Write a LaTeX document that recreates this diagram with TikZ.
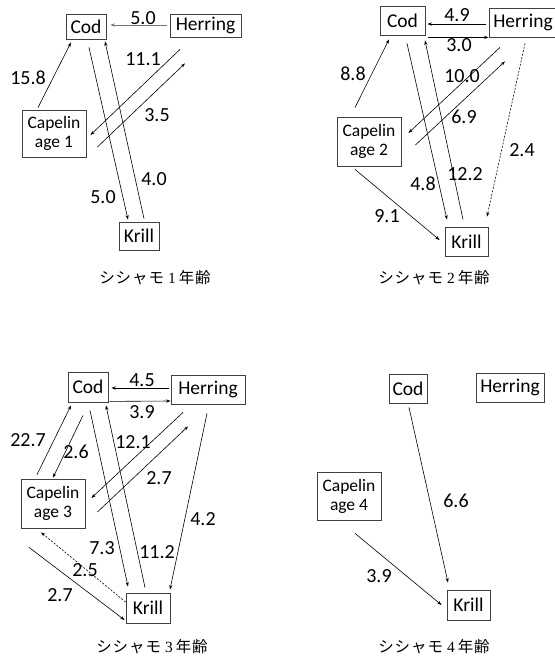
\documentclass[tikz,border=0pt]{standalone}
\usepackage{fontspec}
\setmainfont{Carlito}
\newfontfamily\cjk[LetterSpace=6]{Noto Sans CJK JP}
\newfontfamily\capdigit{Liberation Serif}
\usetikzlibrary{arrows.meta}
\newcommand\agecap[1]{{\cjk シシャモ}\hspace{4pt}{\capdigit #1}\hspace{3pt}{\cjk 年齢}}
\begin{document}
\begin{tikzpicture}[x=1pt,y=-1pt,
  box/.style={draw=black!75, line width=0.8pt, fill=white, inner sep=0pt, align=center, font=\fontsize{19.5}{19}\selectfont},
  capbox/.style={box, font=\fontsize{17.5}{19}\selectfont},
  arr/.style={-{Stealth[length=4.5pt,width=3.2pt]}, line width=0.6pt},
  lbl/.style={font=\fontsize{20}{20}\selectfont, inner sep=0pt},
  captxt/.style={font=\fontsize{15.5}{15.5}\selectfont, inner sep=0pt}]
\useasboundingbox[fill=white] (0,0) rectangle (554,658);

% ---------- Panel 1 ----------
\node[box, minimum width=40, minimum height=25] (p1cod) at (86,26.5) {Cod};
\node[box, minimum width=71, minimum height=23] (p1her) at (205.5,25.5) {Herring};
\node[capbox, minimum width=64, minimum height=47] (p1cap) at (54,133.5) {Capelin\\age 1};
\node[box, minimum width=40, minimum height=28] (p1kri) at (139,236) {Krill};
\node[captxt] (p1t) at (155,278) {\agecap{1}};

\draw[arr, draw=black!55] ([shift={(-3,-0.5)}]p1her.west) -- ([shift={(4,-1.5)}]p1cod.east);
\draw[arr] ([shift={(-16,-2)}]p1cap.north) -- ([shift={(-15,3)}]p1cod.south);
\draw[arr] ([shift={(-25.5,12)}]p1her.south) -- ([shift={(4,1.5)}]p1cap.east);
\draw[arr] ([shift={(11,13.5)}]p1cap.east) -- ([shift={(-20.5,26)}]p1her.south);
\draw[arr] ([shift={(3,8)}]p1cod.south) -- ([shift={(-11,-2)}]p1kri.north);
\draw[arr] ([shift={(5,-3)}]p1kri.north) -- ([shift={(19,2)}]p1cod.south);

\node[lbl] (l1a) at (143,18) {5.0};
\node[lbl] (l1b) at (28,78) {15.8};
\node[lbl] (l1c) at (143,59) {11.1};
\node[lbl] (l1d) at (157,115) {3.5};
\node[lbl] (l1e) at (103,197) {5.0};
\node[lbl] (l1f) at (154,179) {4.0};

% ---------- Panel 2 ----------
\node[box, minimum width=45, minimum height=29] (p2cod) at (402.5,20.5) {Cod};
\node[box, minimum width=68, minimum height=29] (p2her) at (523,22.5) {Herring};
\node[capbox, minimum width=64, minimum height=49] (p2cap) at (369,141.5) {Capelin\\age 2};
\node[box, minimum width=43, minimum height=29] (p2kri) at (466.5,241.5) {Krill};
\node[captxt] (p2t) at (434,278) {\agecap{2}};

\draw[arr] ([shift={(-3,1.5)}]p2her.west) -- ([shift={(2,3.5)}]p2cod.east);
\draw[arr] ([shift={(3,2)}]p2cod.south east) -- ([shift={(0,0)}]p2her.south west);
\draw[arr] ([shift={(-14,-9)}]p2cap.north) -- ([shift={(-13.5,4)}]p2cod.south);
\draw[arr] ([shift={(-23,10)}]p2her.south) -- ([shift={(7,-8.5)}]p2cap.east);
\draw[arr] ([shift={(14,3.5)}]p2cap.east) -- ([shift={(-18,24)}]p2her.south);
\draw[arr, dashed, dash pattern=on 2pt off 1.5pt] ([shift={(2,6)}]p2her.south) -- ([shift={(20.5,-10)}]p2kri.north);
\draw[arr] ([shift={(4.5,8)}]p2cod.south) -- ([shift={(-19.5,-7)}]p2kri.north);
\draw[arr] ([shift={(-3.5,-7)}]p2kri.north) -- ([shift={(22.5,5)}]p2cod.south);
\draw[arr] ([shift={(-14,3)}]p2cap.south) -- ([shift={(-5,-1.5)}]p2kri.west);

\node[lbl] (l2a) at (457,15) {4.9};
\node[lbl] (l2b) at (459,45) {3.0};
\node[lbl] (l2c) at (353,74) {8.8};
\node[lbl] (l2d) at (462,76) {10.0};
\node[lbl] (l2e) at (464,117) {6.9};
\node[lbl] (l2f) at (522,150) {2.4};
\node[lbl] (l2g) at (423,184) {4.8};
\node[lbl] (l2h) at (465,174) {12.2};
\node[lbl] (l2i) at (387,216) {9.1};

% ---------- Panel 3 ----------
\node[box, minimum width=40, minimum height=30] (p3cod) at (88,387) {Cod};
\node[box, minimum width=74, minimum height=29] (p3her) at (208,389.5) {Herring};
\node[capbox, minimum width=64, minimum height=49] (p3cap) at (53,503.5) {Capelin\\age 3};
\node[box, minimum width=44, minimum height=30] (p3kri) at (148,608) {Krill};
\node[captxt] (p3t) at (152,647) {\agecap{3}};

\draw[arr] ([shift={(-2,-1.5)}]p3her.west) -- ([shift={(3,1)}]p3cod.east);
\draw[arr] ([shift={(1,-1)}]p3cod.south east) -- ([shift={(0,11.5)}]p3her.west);
\draw[arr] ([shift={(-16,-4)}]p3cap.north) -- ([shift={(-17,3)}]p3cod.south);
\draw[arr] ([shift={(-5,13)}]p3cod.south) -- ([shift={(0,-1)}]p3cap.north);
\draw[arr] ([shift={(2,8)}]p3cod.south) -- ([shift={(-20,-6)}]p3kri.north);
\draw[arr] ([shift={(-3,-5)}]p3kri.north) -- ([shift={(18,3)}]p3cod.south);
\draw[arr] ([shift={(-25,8)}]p3her.south) -- ([shift={(6,-5.5)}]p3cap.east);
\draw[arr] ([shift={(12,8.5)}]p3cap.east) -- ([shift={(-20,22)}]p3her.south);
\draw[arr] ([shift={(-1,9)}]p3her.south) -- ([shift={(22,-3)}]p3kri.north);
\draw[arr, dashed, dash pattern=on 2pt off 1.5pt] ([shift={(0,-6)}]p3kri.west) -- ([shift={(-12,4)}]p3cap.south);
\draw[arr] ([shift={(-24,19)}]p3cap.south) -- ([shift={(-1,12)}]p3kri.west);

\node[lbl] (l3a) at (142,380) {4.5};
\node[lbl] (l3b) at (142,412) {3.9};
\node[lbl] (l3c) at (28,440) {22.7};
\node[lbl] (l3d) at (76,452) {2.6};
\node[lbl] (l3e) at (102,548) {7.3};
\node[lbl] (l3f) at (157,552) {11.2};
\node[lbl] (l3g) at (133,442) {12.1};
\node[lbl] (l3h) at (159,478) {2.7};
\node[lbl] (l3i) at (203,519) {4.2};
\node[lbl] (l3j) at (85,570) {2.5};
\node[lbl] (l3k) at (60,595) {2.7};

% ---------- Panel 4 ----------
\node[box, minimum width=38, minimum height=29] (p4cod) at (408,388.5) {Cod};
\node[box, minimum width=68, minimum height=29] (p4her) at (510,387.5) {Herring};
\node[capbox, minimum width=64, minimum height=48] (p4cap) at (349,496) {Capelin\\age 4};
\node[box, minimum width=43, minimum height=30] (p4kri) at (468.5,605) {Krill};
\node[captxt] (p4t) at (434,647) {\agecap{4}};

\draw[arr] ([shift={(1,4)}]p4cod.south) -- ([shift={(-20.5,-7)}]p4kri.north);
\draw[arr] ([shift={(6,13)}]p4cap.south) -- ([shift={(-5,0)}]p4kri.west);

\node[lbl] (l4a) at (456,501) {6.6};
\node[lbl] (l4b) at (379,576) {3.9};
\end{tikzpicture}
\end{document}
